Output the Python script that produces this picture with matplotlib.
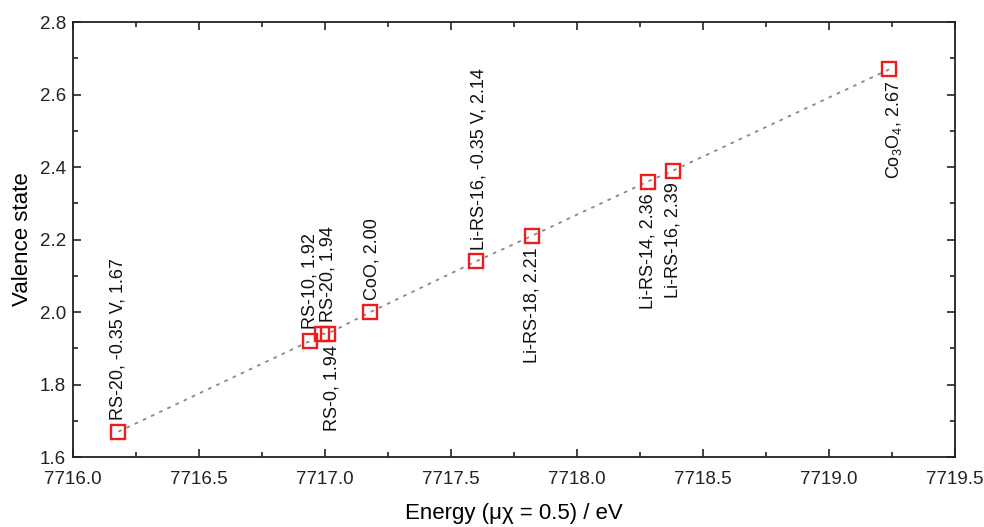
import matplotlib
matplotlib.use("Agg")
import matplotlib.pyplot as plt
from matplotlib.ticker import MultipleLocator, FormatStrFormatter

plt.rcParams['font.family'] = ['Liberation Sans', 'DejaVu Sans']
plt.rcParams['mathtext.fontset'] = 'custom'
plt.rcParams['mathtext.rm'] = 'Liberation Sans'
plt.rcParams['mathtext.it'] = 'Liberation Sans:italic'

# Edge energies at mu*chi = 0.5 and the corresponding Co valence states
energy = [7716.18, 7716.94, 7716.99, 7717.01, 7717.18, 7717.60, 7717.82, 7718.28, 7718.38, 7719.24]
valence = [1.67, 1.92, 1.94, 1.94, 2.00, 2.14, 2.21, 2.36, 2.39, 2.67]
names = ["RS-20, -0.35 V", "RS-10", "RS-20", "RS-0", "CoO", "Li-RS-16, -0.35 V",
         "Li-RS-18", "Li-RS-14", "Li-RS-16", "Co$_3$O$_4$"]
# label placement: +1 above the marker, -1 below
side = [1, 1, 1, -1, 1, 1, -1, -1, -1, -1]
dx_px = [0, 0, 6, 4, 2, 3, 0, 0, 0, 5]

fig = plt.figure(figsize=(9.84, 5.27), dpi=100)
ax = fig.add_axes([0.0742, 0.1328, 0.8963, 0.8252])

ax.plot(energy, valence, linestyle=(0, (2, 3)), color='#8a8a8a', linewidth=1.3, zorder=1)
ax.plot(energy, valence, linestyle='none', marker='s', markersize=10.5,
        markerfacecolor='none', markeredgecolor='#ee1c1c', markeredgewidth=1.7, zorder=2)

for x, y, n, s, d in zip(energy, valence, names, side, dx_px):
    ax.annotate(f"{n}, {y:.2f}", (x, y), xytext=(d * 0.72, s * 8.5), textcoords='offset points',
                rotation=90, ha='center', va='bottom' if s > 0 else 'top',
                fontsize=13, color='#111111')

ax.set_xlim(7716.0, 7719.5)
ax.set_ylim(1.6, 2.8)
ax.xaxis.set_major_locator(MultipleLocator(0.5))
ax.xaxis.set_minor_locator(MultipleLocator(0.25))
ax.yaxis.set_major_locator(MultipleLocator(0.2))
ax.yaxis.set_minor_locator(MultipleLocator(0.1))
ax.xaxis.set_major_formatter(FormatStrFormatter('%.1f'))
ax.yaxis.set_major_formatter(FormatStrFormatter('%.1f'))
ax.tick_params(which='both', direction='in', top=True, right=True, width=1.2, colors='#222222')
ax.tick_params(which='major', length=6, labelsize=13.5)
ax.tick_params(axis='x', which='major', pad=10)
ax.tick_params(axis='y', which='major', pad=5)
ax.tick_params(which='minor', length=3.5)
for sp in ax.spines.values():
    sp.set_linewidth(1.3)
    sp.set_color('#222222')

ax.set_xlabel("Energy (μχ = 0.5) / eV", fontsize=16, labelpad=11)
ax.set_ylabel("Valence state", fontsize=16, labelpad=5)

fig.savefig("out.png", dpi=100, facecolor='white')
